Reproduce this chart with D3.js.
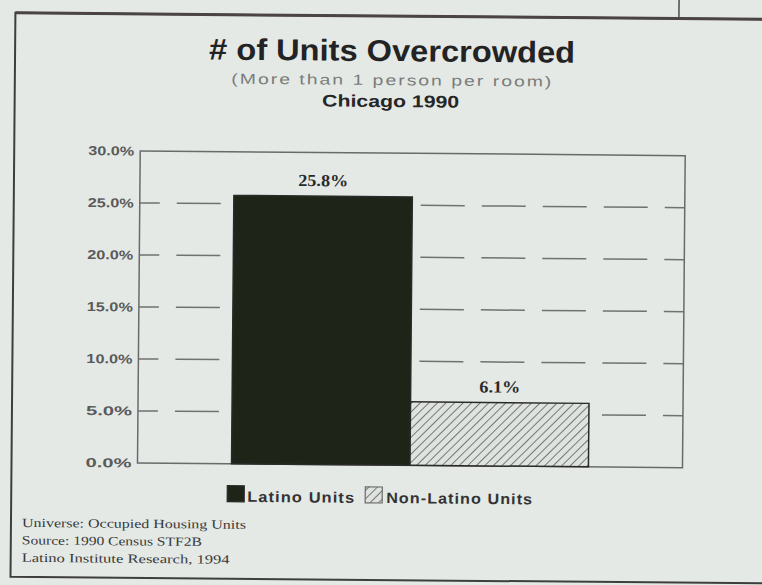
<!DOCTYPE html>
<html>
<head>
<meta charset="utf-8">
<script src="https://cdn.jsdelivr.net/npm/d3@7"></script>
<style>
  html, body { margin: 0; padding: 0; background: #e4e9e6; }
  svg { display: block; }
</style>
</head>
<body>
<svg id="chart" width="762" height="585"></svg>
<script>
// Share of occupied housing units with more than one person per room
const categories = ["Latino Units", "Non-Latino Units"];
const values = [25.8, 6.1];
const yTicks = [0, 5, 10, 15, 20, 25, 30];
const gridValues = [5, 10, 15, 20, 25];
const titleText = "# of Units Overcrowded";
const subtitleText = "(More than 1 person per room)";
const placeText = "Chicago 1990";
const notes = [
  "Universe: Occupied Housing Units",
  "Source: 1990 Census STF2B",
  "Latino Institute Research, 1994"
];

const svg = d3.select("#chart");
const W = 762, H = 585;
svg.append("rect").attr("width", W).attr("height", H).attr("fill", "#e4e9e6");

// diagonal hatching for the non-Latino bar
const defs = svg.append("defs");
const pat = defs.append("pattern")
  .attr("id", "hatch").attr("patternUnits", "userSpaceOnUse")
  .attr("width", 6).attr("height", 6)
  .attr("patternTransform", "rotate(45)");
pat.append("rect").attr("width", 6).attr("height", 6).attr("fill", "#dfe3df");
pat.append("line").attr("x1", 0).attr("y1", 0).attr("x2", 0).attr("y2", 6)
  .attr("stroke", "#5a5c58").attr("stroke-width", 1.6);

// the whole page sits slightly tilted
const g = svg.append("g").attr("transform", "rotate(0.5 381 292)");

// outer frame (open on the right)
g.append("path")
  .attr("d", "M780,16 L13,16 L13,580 L780,580")
  .attr("fill", "none").attr("stroke", "#3e3e3e").attr("stroke-width", 2);
g.append("line").attr("x1", 13).attr("x2", 780).attr("y1", 16).attr("y2", 16)
  .attr("stroke", "#4a4444").attr("stroke-width", 3);
g.append("line").attr("x1", 676.5).attr("x2", 676.5).attr("y1", -20).attr("y2", 16)
  .attr("stroke", "#4a4a4a").attr("stroke-width", 1.5);

// titles
g.append("text").attr("x", 390).attr("y", 61).attr("text-anchor", "middle")
  .attr("font-family", "Liberation Sans, Arial, sans-serif").attr("font-weight", "bold")
  .attr("font-size", 30).attr("fill", "#232323")
  .attr("textLength", 366).attr("lengthAdjust", "spacingAndGlyphs")
  .text(titleText);
g.append("text").attr("x", 390.5).attr("y", 85).attr("text-anchor", "middle")
  .attr("font-family", "Liberation Sans, Arial, sans-serif")
  .attr("font-size", 14.5).attr("fill", "#7a7c7a").attr("letter-spacing", 1.5)
  .attr("textLength", 322).attr("lengthAdjust", "spacingAndGlyphs")
  .text(subtitleText);
g.append("text").attr("x", 389).attr("y", 107).attr("text-anchor", "middle")
  .attr("font-family", "Liberation Sans, Arial, sans-serif").attr("font-weight", "bold")
  .attr("font-size", 17).attr("fill", "#262626")
  .attr("textLength", 137).attr("lengthAdjust", "spacingAndGlyphs")
  .text(placeText);

// plot area
const plot = { left: 139, right: 684, top: 153, bottom: 465 };
const y = d3.scaleLinear().domain([0, 30]).range([plot.bottom, plot.top]);
const x = d3.scaleBand().domain(categories)
  .range([plot.left, plot.right]).paddingInner(0).paddingOuter(0.527);

// dashed gridlines
g.append("g").selectAll("line").data(gridValues).join("line")
  .attr("x1", plot.left).attr("x2", plot.right)
  .attr("y1", d => y(d)).attr("y2", d => y(d))
  .attr("stroke", "#707270").attr("stroke-width", 1.5)
  .attr("stroke-dasharray", "44 17").attr("stroke-dashoffset", 24);

// plot border
g.append("rect")
  .attr("x", plot.left).attr("y", plot.top)
  .attr("width", plot.right - plot.left).attr("height", plot.bottom - plot.top)
  .attr("fill", "none").attr("stroke", "#6a6a6a").attr("stroke-width", 1.5);

// y axis labels
const yAxis = d3.axisLeft(y).tickValues(yTicks)
  .tickFormat(d => d3.format(".1f")(d) + "%").tickSize(0).tickPadding(6);
const ya = g.append("g").attr("transform", `translate(${plot.left},0)`).call(yAxis);
ya.select(".domain").remove();
ya.selectAll("text")
  .attr("font-family", "Liberation Sans, Arial, sans-serif")
  .attr("font-size", 13).attr("fill", "#5a5a5a").attr("font-weight", "bold")
  .attr("textLength", 46).attr("lengthAdjust", "spacingAndGlyphs");

// bars
const fills = ["#1f2419", "url(#hatch)"];
g.append("g").selectAll("rect").data(values).join("rect")
  .attr("x", (d, i) => x(categories[i]))
  .attr("y", d => y(d))
  .attr("width", x.bandwidth())
  .attr("height", d => y(0) - y(d))
  .attr("fill", (d, i) => fills[i])
  .attr("stroke", "#2a2a28").attr("stroke-width", 1.5);

// value labels
g.append("g").selectAll("text").data(values).join("text")
  .attr("x", (d, i) => x(categories[i]) + x.bandwidth() / 2)
  .attr("y", d => y(d) - 10)
  .attr("text-anchor", "middle")
  .attr("font-family", "Liberation Serif, Times New Roman, serif")
  .attr("font-weight", "bold").attr("font-size", 17).attr("fill", "#2a2a2a")
  .attr("textLength", (d, i) => i === 0 ? 50 : 41).attr("lengthAdjust", "spacingAndGlyphs")
  .text(d => d3.format(".1f")(d) + "%");

// legend
const legendItems = [
  { sx: 229, tx: 249, tw: 108 },
  { sx: 367, tx: 388, tw: 147 }
];
const leg = g.append("g");
legendItems.forEach((p, i) => {
  leg.append("rect").attr("x", p.sx).attr("y", 487).attr("width", 17).attr("height", 16)
    .attr("fill", fills[i]).attr("stroke", i === 0 ? "#2a2a28" : "#6a6a6a").attr("stroke-width", 1.2);
  leg.append("text").attr("x", p.tx).attr("y", 503)
    .attr("font-family", "Liberation Sans, Arial, sans-serif").attr("font-weight", "bold")
    .attr("font-size", 15).attr("fill", "#333").attr("letter-spacing", 1)
    .attr("textLength", p.tw).attr("lengthAdjust", "spacingAndGlyphs")
    .text(categories[i]);
});

// footnotes
const noteWidths = [224, 180, 208];
g.append("g").selectAll("text").data(notes).join("text")
  .attr("x", 24).attr("y", (d, i) => 530 + i * 17.5)
  .attr("font-family", "Liberation Serif, Times New Roman, serif")
  .attr("font-size", 12.5).attr("fill", "#3a3a3a")
  .attr("textLength", (d, i) => noteWidths[i]).attr("lengthAdjust", "spacingAndGlyphs")
  .text(d => d);
</script>
</body>
</html>
